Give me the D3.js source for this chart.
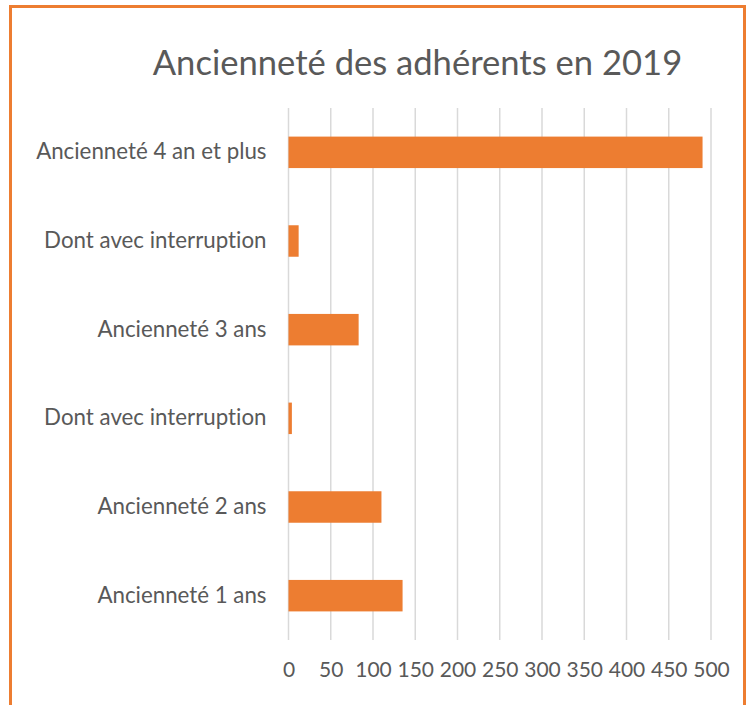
<!DOCTYPE html>
<html>
<head>
<meta charset="utf-8">
<script src="https://cdn.jsdelivr.net/npm/d3@7"></script>
<style>
  body { margin: 0; background: #fff; }
  text { font-family: Lato, "Open Sans", sans-serif; fill: #595959; font-variant-ligatures: none; }
</style>
</head>
<body>
<div id="chart"></div>
<script>
// categories, top to bottom
const categories = [
  "Ancienneté 4 an et plus",
  "Dont avec interruption",
  "Ancienneté 3 ans",
  "Dont avec interruption",
  "Ancienneté 2 ans",
  "Ancienneté 1 ans"
];
const values = [490, 12, 83, 4, 110, 135];
const tickValues = [0, 50, 100, 150, 200, 250, 300, 350, 400, 450, 500];

const width = 753;
const height = 705;
const margin = { top: 108, right: 42, bottom: 65, left: 288.5 };

const svg = d3.select("#chart")
  .append("svg")
  .attr("width", width)
  .attr("height", height);

// orange frame (runs off the bottom like the screenshot)
svg.append("rect")
  .attr("x", 10.5)
  .attr("y", 6.5)
  .attr("width", 734)
  .attr("height", 720)
  .attr("fill", "none")
  .attr("stroke", "#ED7D31")
  .attr("stroke-width", 3);

const x = d3.scaleLinear()
  .domain([0, 500])
  .range([margin.left, width - margin.right]);

const y = d3.scaleBand()
  .domain(d3.range(categories.length))
  .range([margin.top, height - margin.bottom])
  .paddingInner(0.645)
  .paddingOuter(0.3225);

// gridlines
svg.append("g")
  .selectAll("line")
  .data(tickValues)
  .enter()
  .append("line")
  .attr("x1", d => x(d))
  .attr("x2", d => x(d))
  .attr("y1", margin.top)
  .attr("y2", height - margin.bottom)
  .attr("stroke", "#d9d9d9")
  .attr("stroke-width", 1.5);

// bottom axis labels
const xAxis = svg.append("g")
  .attr("transform", `translate(0,${height - margin.bottom})`)
  .call(d3.axisBottom(x).tickValues(tickValues).tickSize(0).tickPadding(22));
xAxis.select(".domain").remove();
xAxis.selectAll("text")
  .style("font-family", "Lato, 'Open Sans', sans-serif")
  .style("font-size", "21px")
  .attr("fill", "#595959");

// category labels
const yAxis = svg.append("g")
  .attr("transform", `translate(${margin.left},0)`)
  .call(d3.axisLeft(y).tickFormat(i => categories[i]).tickSize(0).tickPadding(22));
yAxis.select(".domain").remove();
yAxis.selectAll("text")
  .style("font-family", "Lato, 'Open Sans', sans-serif")
  .style("font-size", "22.3px")
  .attr("fill", "#595959");

// bars
svg.selectAll("rect.bar")
  .data(values)
  .enter()
  .append("rect")
  .attr("class", "bar")
  .attr("x", x(0))
  .attr("y", (d, i) => y(i))
  .attr("width", d => x(d) - x(0))
  .attr("height", y.bandwidth())
  .attr("fill", "#ED7D31");

// title
svg.append("text")
  .attr("x", 417.5)
  .attr("y", 75)
  .attr("text-anchor", "middle")
  .style("font-size", "34.6px")
  .text("Ancienneté des adhérents en 2019");
</script>
</body>
</html>
